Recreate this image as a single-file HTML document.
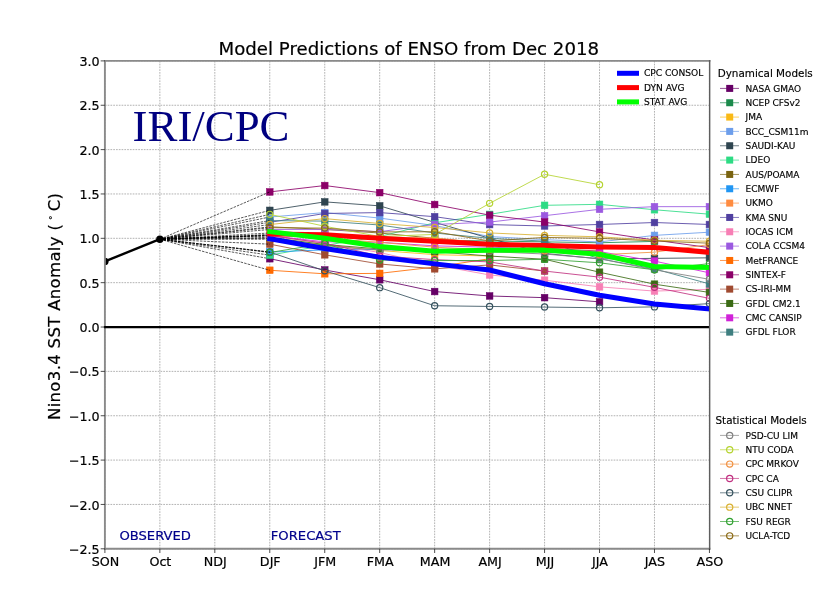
<!DOCTYPE html>
<html lang="en"><head><meta charset="utf-8"><title>Model Predictions of ENSO from Dec 2018</title>
<style>html,body{margin:0;padding:0;background:#fff}svg{display:block}</style></head>
<body>
<svg width="840" height="610" viewBox="0 0 840 610">
<defs><clipPath id="ax"><rect x="104.9" y="60.9" width="604.55" height="487.90"/></clipPath></defs>
<rect x="0" y="0" width="840" height="610" fill="#ffffff"/>
<g stroke="#a0a0a0" stroke-width="0.8" stroke-dasharray="1.7 1.08" fill="none">
<line x1="104.90" y1="60.9" x2="104.90" y2="548.8"/>
<line x1="159.86" y1="60.9" x2="159.86" y2="548.8"/>
<line x1="214.82" y1="60.9" x2="214.82" y2="548.8"/>
<line x1="269.78" y1="60.9" x2="269.78" y2="548.8"/>
<line x1="324.74" y1="60.9" x2="324.74" y2="548.8"/>
<line x1="379.70" y1="60.9" x2="379.70" y2="548.8"/>
<line x1="434.65" y1="60.9" x2="434.65" y2="548.8"/>
<line x1="489.61" y1="60.9" x2="489.61" y2="548.8"/>
<line x1="544.57" y1="60.9" x2="544.57" y2="548.8"/>
<line x1="599.53" y1="60.9" x2="599.53" y2="548.8"/>
<line x1="654.49" y1="60.9" x2="654.49" y2="548.8"/>
<line x1="709.45" y1="60.9" x2="709.45" y2="548.8"/>
<line x1="104.9" y1="548.80" x2="709.45" y2="548.80"/>
<line x1="104.9" y1="504.45" x2="709.45" y2="504.45"/>
<line x1="104.9" y1="460.09" x2="709.45" y2="460.09"/>
<line x1="104.9" y1="415.74" x2="709.45" y2="415.74"/>
<line x1="104.9" y1="371.38" x2="709.45" y2="371.38"/>
<line x1="104.9" y1="327.03" x2="709.45" y2="327.03"/>
<line x1="104.9" y1="282.67" x2="709.45" y2="282.67"/>
<line x1="104.9" y1="238.32" x2="709.45" y2="238.32"/>
<line x1="104.9" y1="193.96" x2="709.45" y2="193.96"/>
<line x1="104.9" y1="149.61" x2="709.45" y2="149.61"/>
<line x1="104.9" y1="105.25" x2="709.45" y2="105.25"/>
<line x1="104.9" y1="60.90" x2="709.45" y2="60.90"/>
</g>
<g clip-path="url(#ax)">
<g stroke="#660066" fill="#660066"><polyline points="269.78,258.72 324.74,269.99 379.70,279.75 434.65,291.54 489.61,295.98 544.57,297.66 599.53,301.83" stroke-width="0.85" fill="none"/>
<rect x="266.43" y="255.37" width="6.7" height="6.7" stroke-width="0.5"/>
<rect x="321.39" y="266.64" width="6.7" height="6.7" stroke-width="0.5"/>
<rect x="376.35" y="276.40" width="6.7" height="6.7" stroke-width="0.5"/>
<rect x="431.30" y="288.19" width="6.7" height="6.7" stroke-width="0.5"/>
<rect x="486.26" y="292.63" width="6.7" height="6.7" stroke-width="0.5"/>
<rect x="541.22" y="294.31" width="6.7" height="6.7" stroke-width="0.5"/>
<rect x="596.18" y="298.48" width="6.7" height="6.7" stroke-width="0.5"/>
</g>
<line x1="159.86" y1="239.21" x2="269.78" y2="258.72" stroke="#000" stroke-width="0.65" stroke-dasharray="2.5 1.15" fill="none"/>
<g stroke="#1b8a4b" fill="#1b8a4b"><polyline points="269.78,234.77 324.74,236.54 379.70,238.32 434.65,240.09 489.61,240.98 544.57,241.87 599.53,242.75 654.49,241.42" stroke-width="0.85" fill="none"/>
<rect x="266.43" y="231.42" width="6.7" height="6.7" stroke-width="0.5"/>
<rect x="321.39" y="233.19" width="6.7" height="6.7" stroke-width="0.5"/>
<rect x="376.35" y="234.97" width="6.7" height="6.7" stroke-width="0.5"/>
<rect x="431.30" y="236.74" width="6.7" height="6.7" stroke-width="0.5"/>
<rect x="486.26" y="237.63" width="6.7" height="6.7" stroke-width="0.5"/>
<rect x="541.22" y="238.52" width="6.7" height="6.7" stroke-width="0.5"/>
<rect x="596.18" y="239.40" width="6.7" height="6.7" stroke-width="0.5"/>
<rect x="651.14" y="238.07" width="6.7" height="6.7" stroke-width="0.5"/>
</g>
<line x1="159.86" y1="239.21" x2="269.78" y2="234.77" stroke="#000" stroke-width="0.65" stroke-dasharray="2.5 1.15" fill="none"/>
<g stroke="#f9b916" fill="#f9b916"><polyline points="269.78,239.21 324.74,244.97 379.70,250.47 434.65,254.64 489.61,256.06" stroke-width="0.85" fill="none"/>
<rect x="266.43" y="235.86" width="6.7" height="6.7" stroke-width="0.5"/>
<rect x="321.39" y="241.62" width="6.7" height="6.7" stroke-width="0.5"/>
<rect x="376.35" y="247.12" width="6.7" height="6.7" stroke-width="0.5"/>
<rect x="431.30" y="251.29" width="6.7" height="6.7" stroke-width="0.5"/>
<rect x="486.26" y="252.71" width="6.7" height="6.7" stroke-width="0.5"/>
</g>
<line x1="159.86" y1="239.21" x2="269.78" y2="239.21" stroke="#000" stroke-width="0.65" stroke-dasharray="2.5 1.15" fill="none"/>
<g stroke="#6d9eeb" fill="#6d9eeb"><polyline points="269.78,217.03 324.74,212.59 379.70,218.09 434.65,225.54 489.61,236.54 544.57,239.65 599.53,241.96 654.49,235.39 709.45,232.20" stroke-width="0.85" fill="none"/>
<rect x="266.43" y="213.68" width="6.7" height="6.7" stroke-width="0.5"/>
<rect x="321.39" y="209.24" width="6.7" height="6.7" stroke-width="0.5"/>
<rect x="376.35" y="214.74" width="6.7" height="6.7" stroke-width="0.5"/>
<rect x="431.30" y="222.19" width="6.7" height="6.7" stroke-width="0.5"/>
<rect x="486.26" y="233.19" width="6.7" height="6.7" stroke-width="0.5"/>
<rect x="541.22" y="236.30" width="6.7" height="6.7" stroke-width="0.5"/>
<rect x="596.18" y="238.61" width="6.7" height="6.7" stroke-width="0.5"/>
<rect x="651.14" y="232.04" width="6.7" height="6.7" stroke-width="0.5"/>
<rect x="706.10" y="228.85" width="6.7" height="6.7" stroke-width="0.5"/>
</g>
<line x1="159.86" y1="239.21" x2="269.78" y2="217.03" stroke="#000" stroke-width="0.65" stroke-dasharray="2.5 1.15" fill="none"/>
<g stroke="#2f4550" fill="#2f4550"><polyline points="269.78,210.37 324.74,201.86 379.70,205.85 434.65,222.35 489.61,238.32 544.57,253.40 599.53,258.90 654.49,258.37 709.45,257.83" stroke-width="0.85" fill="none"/>
<rect x="266.43" y="207.02" width="6.7" height="6.7" stroke-width="0.5"/>
<rect x="321.39" y="198.51" width="6.7" height="6.7" stroke-width="0.5"/>
<rect x="376.35" y="202.50" width="6.7" height="6.7" stroke-width="0.5"/>
<rect x="431.30" y="219.00" width="6.7" height="6.7" stroke-width="0.5"/>
<rect x="486.26" y="234.97" width="6.7" height="6.7" stroke-width="0.5"/>
<rect x="541.22" y="250.05" width="6.7" height="6.7" stroke-width="0.5"/>
<rect x="596.18" y="255.55" width="6.7" height="6.7" stroke-width="0.5"/>
<rect x="651.14" y="255.02" width="6.7" height="6.7" stroke-width="0.5"/>
<rect x="706.10" y="254.48" width="6.7" height="6.7" stroke-width="0.5"/>
</g>
<line x1="159.86" y1="239.21" x2="269.78" y2="210.37" stroke="#000" stroke-width="0.65" stroke-dasharray="2.5 1.15" fill="none"/>
<g stroke="#2ddb84" fill="#2ddb84"><polyline points="269.78,255.17 324.74,245.41 379.70,236.54 434.65,222.79 489.61,214.37 544.57,205.32 599.53,204.34 654.49,209.75 709.45,214.19" stroke-width="0.85" fill="none"/>
<rect x="266.43" y="251.82" width="6.7" height="6.7" stroke-width="0.5"/>
<rect x="321.39" y="242.06" width="6.7" height="6.7" stroke-width="0.5"/>
<rect x="376.35" y="233.19" width="6.7" height="6.7" stroke-width="0.5"/>
<rect x="431.30" y="219.44" width="6.7" height="6.7" stroke-width="0.5"/>
<rect x="486.26" y="211.02" width="6.7" height="6.7" stroke-width="0.5"/>
<rect x="541.22" y="201.97" width="6.7" height="6.7" stroke-width="0.5"/>
<rect x="596.18" y="200.99" width="6.7" height="6.7" stroke-width="0.5"/>
<rect x="651.14" y="206.40" width="6.7" height="6.7" stroke-width="0.5"/>
<rect x="706.10" y="210.84" width="6.7" height="6.7" stroke-width="0.5"/>
</g>
<line x1="159.86" y1="239.21" x2="269.78" y2="255.17" stroke="#000" stroke-width="0.65" stroke-dasharray="2.5 1.15" fill="none"/>
<g stroke="#7a6410" fill="#7a6410"><polyline points="269.78,226.79 324.74,229.45 379.70,233.00 434.65,238.32 489.61,243.64 544.57,248.08 599.53,251.09" stroke-width="0.85" fill="none"/>
<rect x="266.43" y="223.44" width="6.7" height="6.7" stroke-width="0.5"/>
<rect x="321.39" y="226.10" width="6.7" height="6.7" stroke-width="0.5"/>
<rect x="376.35" y="229.65" width="6.7" height="6.7" stroke-width="0.5"/>
<rect x="431.30" y="234.97" width="6.7" height="6.7" stroke-width="0.5"/>
<rect x="486.26" y="240.29" width="6.7" height="6.7" stroke-width="0.5"/>
<rect x="541.22" y="244.73" width="6.7" height="6.7" stroke-width="0.5"/>
<rect x="596.18" y="247.74" width="6.7" height="6.7" stroke-width="0.5"/>
</g>
<line x1="159.86" y1="239.21" x2="269.78" y2="226.79" stroke="#000" stroke-width="0.65" stroke-dasharray="2.5 1.15" fill="none"/>
<g stroke="#2196f3" fill="#2196f3"><polyline points="269.78,252.07 324.74,249.85 379.70,249.50 434.65,249.85 489.61,250.74" stroke-width="0.85" fill="none"/>
<rect x="266.43" y="248.72" width="6.7" height="6.7" stroke-width="0.5"/>
<rect x="321.39" y="246.50" width="6.7" height="6.7" stroke-width="0.5"/>
<rect x="376.35" y="246.15" width="6.7" height="6.7" stroke-width="0.5"/>
<rect x="431.30" y="246.50" width="6.7" height="6.7" stroke-width="0.5"/>
<rect x="486.26" y="247.39" width="6.7" height="6.7" stroke-width="0.5"/>
</g>
<line x1="159.86" y1="239.21" x2="269.78" y2="252.07" stroke="#000" stroke-width="0.65" stroke-dasharray="2.5 1.15" fill="none"/>
<g stroke="#ff8c40" fill="#ff8c40"><polyline points="269.78,234.77 324.74,235.66 379.70,237.43 434.65,237.87 489.61,243.64" stroke-width="0.85" fill="none"/>
<rect x="266.43" y="231.42" width="6.7" height="6.7" stroke-width="0.5"/>
<rect x="321.39" y="232.31" width="6.7" height="6.7" stroke-width="0.5"/>
<rect x="376.35" y="234.08" width="6.7" height="6.7" stroke-width="0.5"/>
<rect x="431.30" y="234.52" width="6.7" height="6.7" stroke-width="0.5"/>
<rect x="486.26" y="240.29" width="6.7" height="6.7" stroke-width="0.5"/>
</g>
<line x1="159.86" y1="239.21" x2="269.78" y2="234.77" stroke="#000" stroke-width="0.65" stroke-dasharray="2.5 1.15" fill="none"/>
<g stroke="#5040a0" fill="#5040a0"><polyline points="269.78,222.35 324.74,213.48 379.70,212.59 434.65,216.67 489.61,224.57 544.57,225.99 599.53,224.48 654.49,222.53 709.45,224.48" stroke-width="0.85" fill="none"/>
<rect x="266.43" y="219.00" width="6.7" height="6.7" stroke-width="0.5"/>
<rect x="321.39" y="210.13" width="6.7" height="6.7" stroke-width="0.5"/>
<rect x="376.35" y="209.24" width="6.7" height="6.7" stroke-width="0.5"/>
<rect x="431.30" y="213.32" width="6.7" height="6.7" stroke-width="0.5"/>
<rect x="486.26" y="221.22" width="6.7" height="6.7" stroke-width="0.5"/>
<rect x="541.22" y="222.64" width="6.7" height="6.7" stroke-width="0.5"/>
<rect x="596.18" y="221.13" width="6.7" height="6.7" stroke-width="0.5"/>
<rect x="651.14" y="219.18" width="6.7" height="6.7" stroke-width="0.5"/>
<rect x="706.10" y="221.13" width="6.7" height="6.7" stroke-width="0.5"/>
</g>
<line x1="159.86" y1="239.21" x2="269.78" y2="222.35" stroke="#000" stroke-width="0.65" stroke-dasharray="2.5 1.15" fill="none"/>
<g stroke="#f77fb5" fill="#f77fb5"><polyline points="269.78,235.66 324.74,243.64 379.70,252.51 434.65,264.93 489.61,274.96 544.57,280.19 599.53,286.84 654.49,291.10 709.45,289.33" stroke-width="0.85" fill="none"/>
<rect x="266.43" y="232.31" width="6.7" height="6.7" stroke-width="0.5"/>
<rect x="321.39" y="240.29" width="6.7" height="6.7" stroke-width="0.5"/>
<rect x="376.35" y="249.16" width="6.7" height="6.7" stroke-width="0.5"/>
<rect x="431.30" y="261.58" width="6.7" height="6.7" stroke-width="0.5"/>
<rect x="486.26" y="271.61" width="6.7" height="6.7" stroke-width="0.5"/>
<rect x="541.22" y="276.84" width="6.7" height="6.7" stroke-width="0.5"/>
<rect x="596.18" y="283.49" width="6.7" height="6.7" stroke-width="0.5"/>
<rect x="651.14" y="287.75" width="6.7" height="6.7" stroke-width="0.5"/>
<rect x="706.10" y="285.98" width="6.7" height="6.7" stroke-width="0.5"/>
</g>
<line x1="159.86" y1="239.21" x2="269.78" y2="235.66" stroke="#000" stroke-width="0.65" stroke-dasharray="2.5 1.15" fill="none"/>
<g stroke="#9b59e0" fill="#9b59e0"><polyline points="269.78,229.45 324.74,229.45 379.70,231.66 434.65,224.48 489.61,222.08 544.57,215.70 599.53,209.31 654.49,206.65 709.45,206.65" stroke-width="0.85" fill="none"/>
<rect x="266.43" y="226.10" width="6.7" height="6.7" stroke-width="0.5"/>
<rect x="321.39" y="226.10" width="6.7" height="6.7" stroke-width="0.5"/>
<rect x="376.35" y="228.31" width="6.7" height="6.7" stroke-width="0.5"/>
<rect x="431.30" y="221.13" width="6.7" height="6.7" stroke-width="0.5"/>
<rect x="486.26" y="218.73" width="6.7" height="6.7" stroke-width="0.5"/>
<rect x="541.22" y="212.35" width="6.7" height="6.7" stroke-width="0.5"/>
<rect x="596.18" y="205.96" width="6.7" height="6.7" stroke-width="0.5"/>
<rect x="651.14" y="203.30" width="6.7" height="6.7" stroke-width="0.5"/>
<rect x="706.10" y="203.30" width="6.7" height="6.7" stroke-width="0.5"/>
</g>
<line x1="159.86" y1="239.21" x2="269.78" y2="229.45" stroke="#000" stroke-width="0.65" stroke-dasharray="2.5 1.15" fill="none"/>
<g stroke="#ff6a00" fill="#ff6a00"><polyline points="269.78,270.25 324.74,273.80 379.70,273.36 434.65,267.06 489.61,258.72" stroke-width="0.85" fill="none"/>
<rect x="266.43" y="266.90" width="6.7" height="6.7" stroke-width="0.5"/>
<rect x="321.39" y="270.45" width="6.7" height="6.7" stroke-width="0.5"/>
<rect x="376.35" y="270.01" width="6.7" height="6.7" stroke-width="0.5"/>
<rect x="431.30" y="263.71" width="6.7" height="6.7" stroke-width="0.5"/>
<rect x="486.26" y="255.37" width="6.7" height="6.7" stroke-width="0.5"/>
</g>
<line x1="159.86" y1="239.21" x2="269.78" y2="270.25" stroke="#000" stroke-width="0.65" stroke-dasharray="2.5 1.15" fill="none"/>
<g stroke="#8b0068" fill="#8b0068"><polyline points="269.78,191.92 324.74,185.54 379.70,192.63 434.65,204.52 489.61,215.17 544.57,222.08 599.53,231.93 654.49,240.09 709.45,247.63" stroke-width="0.85" fill="none"/>
<rect x="266.43" y="188.57" width="6.7" height="6.7" stroke-width="0.5"/>
<rect x="321.39" y="182.19" width="6.7" height="6.7" stroke-width="0.5"/>
<rect x="376.35" y="189.28" width="6.7" height="6.7" stroke-width="0.5"/>
<rect x="431.30" y="201.17" width="6.7" height="6.7" stroke-width="0.5"/>
<rect x="486.26" y="211.82" width="6.7" height="6.7" stroke-width="0.5"/>
<rect x="541.22" y="218.73" width="6.7" height="6.7" stroke-width="0.5"/>
<rect x="596.18" y="228.58" width="6.7" height="6.7" stroke-width="0.5"/>
<rect x="651.14" y="236.74" width="6.7" height="6.7" stroke-width="0.5"/>
<rect x="706.10" y="244.28" width="6.7" height="6.7" stroke-width="0.5"/>
</g>
<line x1="159.86" y1="239.21" x2="269.78" y2="191.92" stroke="#000" stroke-width="0.65" stroke-dasharray="2.5 1.15" fill="none"/>
<g stroke="#a04a30" fill="#a04a30"><polyline points="269.78,244.17 324.74,254.82 379.70,263.96 434.65,268.83 489.61,264.93 544.57,271.05" stroke-width="0.85" fill="none"/>
<rect x="266.43" y="240.82" width="6.7" height="6.7" stroke-width="0.5"/>
<rect x="321.39" y="251.47" width="6.7" height="6.7" stroke-width="0.5"/>
<rect x="376.35" y="260.61" width="6.7" height="6.7" stroke-width="0.5"/>
<rect x="431.30" y="265.48" width="6.7" height="6.7" stroke-width="0.5"/>
<rect x="486.26" y="261.58" width="6.7" height="6.7" stroke-width="0.5"/>
<rect x="541.22" y="267.70" width="6.7" height="6.7" stroke-width="0.5"/>
</g>
<line x1="159.86" y1="239.21" x2="269.78" y2="244.17" stroke="#000" stroke-width="0.65" stroke-dasharray="2.5 1.15" fill="none"/>
<g stroke="#3b6b14" fill="#3b6b14"><polyline points="269.78,237.43 324.74,244.53 379.70,248.96 434.65,251.62 489.61,256.06 544.57,259.25 599.53,272.21 654.49,284.18 709.45,292.43" stroke-width="0.85" fill="none"/>
<rect x="266.43" y="234.08" width="6.7" height="6.7" stroke-width="0.5"/>
<rect x="321.39" y="241.18" width="6.7" height="6.7" stroke-width="0.5"/>
<rect x="376.35" y="245.61" width="6.7" height="6.7" stroke-width="0.5"/>
<rect x="431.30" y="248.27" width="6.7" height="6.7" stroke-width="0.5"/>
<rect x="486.26" y="252.71" width="6.7" height="6.7" stroke-width="0.5"/>
<rect x="541.22" y="255.90" width="6.7" height="6.7" stroke-width="0.5"/>
<rect x="596.18" y="268.86" width="6.7" height="6.7" stroke-width="0.5"/>
<rect x="651.14" y="280.83" width="6.7" height="6.7" stroke-width="0.5"/>
<rect x="706.10" y="289.08" width="6.7" height="6.7" stroke-width="0.5"/>
</g>
<line x1="159.86" y1="239.21" x2="269.78" y2="237.43" stroke="#000" stroke-width="0.65" stroke-dasharray="2.5 1.15" fill="none"/>
<g stroke="#d022d8" fill="#d022d8"><polyline points="269.78,235.66 324.74,241.87 379.70,242.31 434.65,245.86 489.61,247.19 544.57,248.96 599.53,251.62 654.49,261.12 709.45,272.83" stroke-width="0.85" fill="none"/>
<rect x="266.43" y="232.31" width="6.7" height="6.7" stroke-width="0.5"/>
<rect x="321.39" y="238.52" width="6.7" height="6.7" stroke-width="0.5"/>
<rect x="376.35" y="238.96" width="6.7" height="6.7" stroke-width="0.5"/>
<rect x="431.30" y="242.51" width="6.7" height="6.7" stroke-width="0.5"/>
<rect x="486.26" y="243.84" width="6.7" height="6.7" stroke-width="0.5"/>
<rect x="541.22" y="245.61" width="6.7" height="6.7" stroke-width="0.5"/>
<rect x="596.18" y="248.27" width="6.7" height="6.7" stroke-width="0.5"/>
<rect x="651.14" y="257.77" width="6.7" height="6.7" stroke-width="0.5"/>
<rect x="706.10" y="269.48" width="6.7" height="6.7" stroke-width="0.5"/>
</g>
<line x1="159.86" y1="239.21" x2="269.78" y2="235.66" stroke="#000" stroke-width="0.65" stroke-dasharray="2.5 1.15" fill="none"/>
<g stroke="#3f7f80" fill="#3f7f80"><polyline points="269.78,220.58 324.74,221.11 379.70,225.01 434.65,233.00 489.61,238.32 544.57,241.16 599.53,258.72 654.49,268.92 709.45,283.91" stroke-width="0.85" fill="none"/>
<rect x="266.43" y="217.23" width="6.7" height="6.7" stroke-width="0.5"/>
<rect x="321.39" y="217.76" width="6.7" height="6.7" stroke-width="0.5"/>
<rect x="376.35" y="221.66" width="6.7" height="6.7" stroke-width="0.5"/>
<rect x="431.30" y="229.65" width="6.7" height="6.7" stroke-width="0.5"/>
<rect x="486.26" y="234.97" width="6.7" height="6.7" stroke-width="0.5"/>
<rect x="541.22" y="237.81" width="6.7" height="6.7" stroke-width="0.5"/>
<rect x="596.18" y="255.37" width="6.7" height="6.7" stroke-width="0.5"/>
<rect x="651.14" y="265.57" width="6.7" height="6.7" stroke-width="0.5"/>
<rect x="706.10" y="280.56" width="6.7" height="6.7" stroke-width="0.5"/>
</g>
<line x1="159.86" y1="239.21" x2="269.78" y2="220.58" stroke="#000" stroke-width="0.65" stroke-dasharray="2.5 1.15" fill="none"/>
<g stroke="#808080" fill="none"><polyline points="269.78,238.32 324.74,246.30 379.70,249.85 434.65,250.74 489.61,251.62 544.57,254.02 599.53,258.72 654.49,269.81 709.45,279.30" stroke-width="0.85"/>
<circle cx="269.78" cy="238.32" r="3.1" stroke-width="1.2"/>
<circle cx="324.74" cy="246.30" r="3.1" stroke-width="1.2"/>
<circle cx="379.70" cy="249.85" r="3.1" stroke-width="1.2"/>
<circle cx="434.65" cy="250.74" r="3.1" stroke-width="1.2"/>
<circle cx="489.61" cy="251.62" r="3.1" stroke-width="1.2"/>
<circle cx="544.57" cy="254.02" r="3.1" stroke-width="1.2"/>
<circle cx="599.53" cy="258.72" r="3.1" stroke-width="1.2"/>
<circle cx="654.49" cy="269.81" r="3.1" stroke-width="1.2"/>
<circle cx="709.45" cy="279.30" r="3.1" stroke-width="1.2"/>
</g>
<line x1="159.86" y1="239.21" x2="269.78" y2="238.32" stroke="#000" stroke-width="0.65" stroke-dasharray="2.5 1.15" fill="none"/>
<g stroke="#b5d330" fill="none"><polyline points="269.78,214.37 324.74,226.25 379.70,236.54 434.65,234.41 489.61,203.37 544.57,174.27 599.53,184.74" stroke-width="0.85"/>
<circle cx="269.78" cy="214.37" r="3.1" stroke-width="1.2"/>
<circle cx="324.74" cy="226.25" r="3.1" stroke-width="1.2"/>
<circle cx="379.70" cy="236.54" r="3.1" stroke-width="1.2"/>
<circle cx="434.65" cy="234.41" r="3.1" stroke-width="1.2"/>
<circle cx="489.61" cy="203.37" r="3.1" stroke-width="1.2"/>
<circle cx="544.57" cy="174.27" r="3.1" stroke-width="1.2"/>
<circle cx="599.53" cy="184.74" r="3.1" stroke-width="1.2"/>
</g>
<line x1="159.86" y1="239.21" x2="269.78" y2="214.37" stroke="#000" stroke-width="0.65" stroke-dasharray="2.5 1.15" fill="none"/>
<g stroke="#f09040" fill="none"><polyline points="269.78,233.00 324.74,238.32 379.70,242.31 434.65,247.19 489.61,249.85 544.57,250.74 599.53,254.73 654.49,252.16 709.45,244.53" stroke-width="0.85"/>
<circle cx="269.78" cy="233.00" r="3.1" stroke-width="1.2"/>
<circle cx="324.74" cy="238.32" r="3.1" stroke-width="1.2"/>
<circle cx="379.70" cy="242.31" r="3.1" stroke-width="1.2"/>
<circle cx="434.65" cy="247.19" r="3.1" stroke-width="1.2"/>
<circle cx="489.61" cy="249.85" r="3.1" stroke-width="1.2"/>
<circle cx="544.57" cy="250.74" r="3.1" stroke-width="1.2"/>
<circle cx="599.53" cy="254.73" r="3.1" stroke-width="1.2"/>
<circle cx="654.49" cy="252.16" r="3.1" stroke-width="1.2"/>
<circle cx="709.45" cy="244.53" r="3.1" stroke-width="1.2"/>
</g>
<line x1="159.86" y1="239.21" x2="269.78" y2="233.00" stroke="#000" stroke-width="0.65" stroke-dasharray="2.5 1.15" fill="none"/>
<g stroke="#c03080" fill="none"><polyline points="269.78,235.66 324.74,243.20 379.70,256.06 434.65,259.61 489.61,261.91 544.57,271.05 599.53,277.17 654.49,287.37 709.45,298.37" stroke-width="0.85"/>
<circle cx="269.78" cy="235.66" r="3.1" stroke-width="1.2"/>
<circle cx="324.74" cy="243.20" r="3.1" stroke-width="1.2"/>
<circle cx="379.70" cy="256.06" r="3.1" stroke-width="1.2"/>
<circle cx="434.65" cy="259.61" r="3.1" stroke-width="1.2"/>
<circle cx="489.61" cy="261.91" r="3.1" stroke-width="1.2"/>
<circle cx="544.57" cy="271.05" r="3.1" stroke-width="1.2"/>
<circle cx="599.53" cy="277.17" r="3.1" stroke-width="1.2"/>
<circle cx="654.49" cy="287.37" r="3.1" stroke-width="1.2"/>
<circle cx="709.45" cy="298.37" r="3.1" stroke-width="1.2"/>
</g>
<line x1="159.86" y1="239.21" x2="269.78" y2="235.66" stroke="#000" stroke-width="0.65" stroke-dasharray="2.5 1.15" fill="none"/>
<g stroke="#36525e" fill="none"><polyline points="269.78,252.07 324.74,270.87 379.70,287.64 434.65,305.74 489.61,306.45 544.57,307.07 599.53,307.78 654.49,306.89 709.45,303.61" stroke-width="0.85"/>
<circle cx="269.78" cy="252.07" r="3.1" stroke-width="1.2"/>
<circle cx="324.74" cy="270.87" r="3.1" stroke-width="1.2"/>
<circle cx="379.70" cy="287.64" r="3.1" stroke-width="1.2"/>
<circle cx="434.65" cy="305.74" r="3.1" stroke-width="1.2"/>
<circle cx="489.61" cy="306.45" r="3.1" stroke-width="1.2"/>
<circle cx="544.57" cy="307.07" r="3.1" stroke-width="1.2"/>
<circle cx="599.53" cy="307.78" r="3.1" stroke-width="1.2"/>
<circle cx="654.49" cy="306.89" r="3.1" stroke-width="1.2"/>
<circle cx="709.45" cy="303.61" r="3.1" stroke-width="1.2"/>
</g>
<line x1="159.86" y1="239.21" x2="269.78" y2="252.07" stroke="#000" stroke-width="0.65" stroke-dasharray="2.5 1.15" fill="none"/>
<g stroke="#d9b132" fill="none"><polyline points="269.78,224.57 324.74,218.62 379.70,223.50 434.65,227.50 489.61,232.91 544.57,235.39 599.53,236.81 654.49,240.27 709.45,241.25" stroke-width="0.85"/>
<circle cx="269.78" cy="224.57" r="3.1" stroke-width="1.2"/>
<circle cx="324.74" cy="218.62" r="3.1" stroke-width="1.2"/>
<circle cx="379.70" cy="223.50" r="3.1" stroke-width="1.2"/>
<circle cx="434.65" cy="227.50" r="3.1" stroke-width="1.2"/>
<circle cx="489.61" cy="232.91" r="3.1" stroke-width="1.2"/>
<circle cx="544.57" cy="235.39" r="3.1" stroke-width="1.2"/>
<circle cx="599.53" cy="236.81" r="3.1" stroke-width="1.2"/>
<circle cx="654.49" cy="240.27" r="3.1" stroke-width="1.2"/>
<circle cx="709.45" cy="241.25" r="3.1" stroke-width="1.2"/>
</g>
<line x1="159.86" y1="239.21" x2="269.78" y2="224.57" stroke="#000" stroke-width="0.65" stroke-dasharray="2.5 1.15" fill="none"/>
<g stroke="#30a030" fill="none"><polyline points="269.78,252.51 324.74,243.64 379.70,260.05 434.65,260.58 489.61,260.50 544.57,259.25 599.53,262.80 654.49,269.81 709.45,263.60" stroke-width="0.85"/>
<circle cx="269.78" cy="252.51" r="3.1" stroke-width="1.2"/>
<circle cx="324.74" cy="243.64" r="3.1" stroke-width="1.2"/>
<circle cx="379.70" cy="260.05" r="3.1" stroke-width="1.2"/>
<circle cx="434.65" cy="260.58" r="3.1" stroke-width="1.2"/>
<circle cx="489.61" cy="260.50" r="3.1" stroke-width="1.2"/>
<circle cx="544.57" cy="259.25" r="3.1" stroke-width="1.2"/>
<circle cx="599.53" cy="262.80" r="3.1" stroke-width="1.2"/>
<circle cx="654.49" cy="269.81" r="3.1" stroke-width="1.2"/>
<circle cx="709.45" cy="263.60" r="3.1" stroke-width="1.2"/>
</g>
<line x1="159.86" y1="239.21" x2="269.78" y2="252.51" stroke="#000" stroke-width="0.65" stroke-dasharray="2.5 1.15" fill="none"/>
<g stroke="#8a6914" fill="none"><polyline points="269.78,227.67 324.74,228.12 379.70,231.93 434.65,231.75 489.61,240.98 544.57,237.43 599.53,238.32 654.49,240.98 709.45,243.20" stroke-width="0.85"/>
<circle cx="269.78" cy="227.67" r="3.1" stroke-width="1.2"/>
<circle cx="324.74" cy="228.12" r="3.1" stroke-width="1.2"/>
<circle cx="379.70" cy="231.93" r="3.1" stroke-width="1.2"/>
<circle cx="434.65" cy="231.75" r="3.1" stroke-width="1.2"/>
<circle cx="489.61" cy="240.98" r="3.1" stroke-width="1.2"/>
<circle cx="544.57" cy="237.43" r="3.1" stroke-width="1.2"/>
<circle cx="599.53" cy="238.32" r="3.1" stroke-width="1.2"/>
<circle cx="654.49" cy="240.98" r="3.1" stroke-width="1.2"/>
<circle cx="709.45" cy="243.20" r="3.1" stroke-width="1.2"/>
</g>
<line x1="159.86" y1="239.21" x2="269.78" y2="227.67" stroke="#000" stroke-width="0.65" stroke-dasharray="2.5 1.15" fill="none"/>
<polyline points="104.90,261.38 159.86,239.21" stroke="#000" stroke-width="2.4" fill="none"/>
<circle cx="104.90" cy="261.38" r="3.7" fill="#000"/>
<circle cx="159.86" cy="239.21" r="3.7" fill="#000"/>
<polyline points="269.78,238.76 324.74,248.52 379.70,257.12 434.65,263.87 489.61,269.99 544.57,283.74 599.53,295.27 654.49,303.96 709.45,308.84" stroke="#0000ff" stroke-width="5.0" fill="none" stroke-linejoin="round" stroke-linecap="square"/>
<polyline points="269.78,233.88 324.74,234.86 379.70,238.32 434.65,241.33 489.61,244.17 544.57,245.59 599.53,247.01 654.49,247.46 709.45,252.33" stroke="#ff0000" stroke-width="5.0" fill="none" stroke-linejoin="round" stroke-linecap="square"/>
<polyline points="269.78,231.66 324.74,238.32 379.70,246.48 434.65,251.18 489.61,250.29 544.57,250.12 599.53,254.29 654.49,266.44 709.45,267.59" stroke="#00ff00" stroke-width="5.0" fill="none" stroke-linejoin="round" stroke-linecap="square"/>
</g>
<path d="M709.45,60.9 H104.9 V548.8 H709.45" fill="none" stroke="#8a8a8a" stroke-width="1.9" stroke-linecap="square"/>
<line x1="103.9" y1="327.03" x2="709.45" y2="327.03" stroke="#000" stroke-width="2.3"/>
<line x1="709.65" y1="60.0" x2="709.65" y2="549.6999999999999" stroke="#5e5e5e" stroke-width="1.45"/>
<g stroke="#222" stroke-width="0.8">
<line x1="104.90" y1="548.8" x2="104.90" y2="553.0"/>
<line x1="159.86" y1="548.8" x2="159.86" y2="553.0"/>
<line x1="214.82" y1="548.8" x2="214.82" y2="553.0"/>
<line x1="269.78" y1="548.8" x2="269.78" y2="553.0"/>
<line x1="324.74" y1="548.8" x2="324.74" y2="553.0"/>
<line x1="379.70" y1="548.8" x2="379.70" y2="553.0"/>
<line x1="434.65" y1="548.8" x2="434.65" y2="553.0"/>
<line x1="489.61" y1="548.8" x2="489.61" y2="553.0"/>
<line x1="544.57" y1="548.8" x2="544.57" y2="553.0"/>
<line x1="599.53" y1="548.8" x2="599.53" y2="553.0"/>
<line x1="654.49" y1="548.8" x2="654.49" y2="553.0"/>
<line x1="709.45" y1="548.8" x2="709.45" y2="553.0"/>
<line x1="100.7" y1="548.80" x2="104.9" y2="548.80"/>
<line x1="100.7" y1="504.45" x2="104.9" y2="504.45"/>
<line x1="100.7" y1="460.09" x2="104.9" y2="460.09"/>
<line x1="100.7" y1="415.74" x2="104.9" y2="415.74"/>
<line x1="100.7" y1="371.38" x2="104.9" y2="371.38"/>
<line x1="100.7" y1="327.03" x2="104.9" y2="327.03"/>
<line x1="100.7" y1="282.67" x2="104.9" y2="282.67"/>
<line x1="100.7" y1="238.32" x2="104.9" y2="238.32"/>
<line x1="100.7" y1="193.96" x2="104.9" y2="193.96"/>
<line x1="100.7" y1="149.61" x2="104.9" y2="149.61"/>
<line x1="100.7" y1="105.25" x2="104.9" y2="105.25"/>
<line x1="100.7" y1="60.90" x2="104.9" y2="60.90"/>
</g>
<g font-family="DejaVu Sans, Liberation Sans, sans-serif" fill="#000" stroke="#000" stroke-width="0.2">
<text x="408.8" y="54.7" font-size="18.15" text-anchor="middle">Model Predictions of ENSO from Dec 2018</text>
<text x="105.40" y="566.4" font-size="12.7" text-anchor="middle">SON</text>
<text x="160.36" y="566.4" font-size="12.7" text-anchor="middle">Oct</text>
<text x="215.32" y="566.4" font-size="12.7" text-anchor="middle">NDJ</text>
<text x="270.28" y="566.4" font-size="12.7" text-anchor="middle">DJF</text>
<text x="325.24" y="566.4" font-size="12.7" text-anchor="middle">JFM</text>
<text x="380.20" y="566.4" font-size="12.7" text-anchor="middle">FMA</text>
<text x="435.15" y="566.4" font-size="12.7" text-anchor="middle">MAM</text>
<text x="490.11" y="566.4" font-size="12.7" text-anchor="middle">AMJ</text>
<text x="545.07" y="566.4" font-size="12.7" text-anchor="middle">MJJ</text>
<text x="600.03" y="566.4" font-size="12.7" text-anchor="middle">JJA</text>
<text x="654.99" y="566.4" font-size="12.7" text-anchor="middle">JAS</text>
<text x="709.95" y="566.4" font-size="12.7" text-anchor="middle">ASO</text>
<text x="99.7" y="553.90" font-size="12.7" text-anchor="end">−2.5</text>
<text x="99.7" y="509.55" font-size="12.7" text-anchor="end">−2.0</text>
<text x="99.7" y="465.19" font-size="12.7" text-anchor="end">−1.5</text>
<text x="99.7" y="420.84" font-size="12.7" text-anchor="end">−1.0</text>
<text x="99.7" y="376.48" font-size="12.7" text-anchor="end">−0.5</text>
<text x="99.7" y="332.13" font-size="12.7" text-anchor="end">0.0</text>
<text x="99.7" y="287.77" font-size="12.7" text-anchor="end">0.5</text>
<text x="99.7" y="243.42" font-size="12.7" text-anchor="end">1.0</text>
<text x="99.7" y="199.06" font-size="12.7" text-anchor="end">1.5</text>
<text x="99.7" y="154.71" font-size="12.7" text-anchor="end">2.0</text>
<text x="99.7" y="110.35" font-size="12.7" text-anchor="end">2.5</text>
<text x="99.7" y="66.00" font-size="12.7" text-anchor="end">3.0</text>
<text transform="translate(59.8,420) rotate(-90)" font-size="16.5" letter-spacing="0.33">Nino3.4 SST Anomaly (<tspan dx="3.8" font-size="9.2" dy="-4.3">°</tspan><tspan dx="3.7" dy="4.3">C)</tspan></text>
</g>
<text x="132.6" y="141.2" font-family="Liberation Serif, DejaVu Serif, serif" font-size="44.8" fill="#000080">IRI/CPC</text>
<g font-family="DejaVu Sans, Liberation Sans, sans-serif" fill="#00008b" font-size="13.15" stroke="#00008b" stroke-width="0.2"><text x="119.4" y="539.6">OBSERVED</text><text x="270.8" y="539.6">FORECAST</text></g>
<g font-family="DejaVu Sans, Liberation Sans, sans-serif" font-size="9.1" fill="#000" stroke="#000" stroke-width="0.15">
<line x1="617" y1="73.30" x2="639" y2="73.30" stroke="#0000ff" stroke-width="5"/>
<text x="643.9" y="76.30">CPC CONSOL</text>
<line x1="617" y1="87.60" x2="639" y2="87.60" stroke="#ff0000" stroke-width="5"/>
<text x="643.9" y="90.60">DYN AVG</text>
<line x1="617" y1="101.90" x2="639" y2="101.90" stroke="#00ff00" stroke-width="5"/>
<text x="643.9" y="104.90">STAT AVG</text>
</g>
<g font-family="DejaVu Sans, Liberation Sans, sans-serif" fill="#000" stroke-width="0.15">
<text x="717.7" y="77" font-size="10.4" stroke="#000">Dynamical Models</text>
<line x1="720" y1="88.40" x2="739" y2="88.40" stroke="#660066" stroke-width="0.68"/>
<rect x="726.20" y="84.90" width="7" height="7" fill="#660066"/>
<text x="745.5" y="91.70" font-size="9" stroke="#000">NASA GMAO</text>
<line x1="720" y1="102.74" x2="739" y2="102.74" stroke="#1b8a4b" stroke-width="0.68"/>
<rect x="726.20" y="99.24" width="7" height="7" fill="#1b8a4b"/>
<text x="745.5" y="106.04" font-size="9" stroke="#000">NCEP CFSv2</text>
<line x1="720" y1="117.08" x2="739" y2="117.08" stroke="#f9b916" stroke-width="0.68"/>
<rect x="726.20" y="113.58" width="7" height="7" fill="#f9b916"/>
<text x="745.5" y="120.38" font-size="9" stroke="#000">JMA</text>
<line x1="720" y1="131.41" x2="739" y2="131.41" stroke="#6d9eeb" stroke-width="0.68"/>
<rect x="726.20" y="127.91" width="7" height="7" fill="#6d9eeb"/>
<text x="745.5" y="134.71" font-size="9" stroke="#000">BCC_CSM11m</text>
<line x1="720" y1="145.75" x2="739" y2="145.75" stroke="#2f4550" stroke-width="0.68"/>
<rect x="726.20" y="142.25" width="7" height="7" fill="#2f4550"/>
<text x="745.5" y="149.05" font-size="9" stroke="#000">SAUDI-KAU</text>
<line x1="720" y1="160.09" x2="739" y2="160.09" stroke="#2ddb84" stroke-width="0.68"/>
<rect x="726.20" y="156.59" width="7" height="7" fill="#2ddb84"/>
<text x="745.5" y="163.39" font-size="9" stroke="#000">LDEO</text>
<line x1="720" y1="174.43" x2="739" y2="174.43" stroke="#7a6410" stroke-width="0.68"/>
<rect x="726.20" y="170.93" width="7" height="7" fill="#7a6410"/>
<text x="745.5" y="177.73" font-size="9" stroke="#000">AUS/POAMA</text>
<line x1="720" y1="188.77" x2="739" y2="188.77" stroke="#2196f3" stroke-width="0.68"/>
<rect x="726.20" y="185.27" width="7" height="7" fill="#2196f3"/>
<text x="745.5" y="192.07" font-size="9" stroke="#000">ECMWF</text>
<line x1="720" y1="203.10" x2="739" y2="203.10" stroke="#ff8c40" stroke-width="0.68"/>
<rect x="726.20" y="199.60" width="7" height="7" fill="#ff8c40"/>
<text x="745.5" y="206.40" font-size="9" stroke="#000">UKMO</text>
<line x1="720" y1="217.44" x2="739" y2="217.44" stroke="#5040a0" stroke-width="0.68"/>
<rect x="726.20" y="213.94" width="7" height="7" fill="#5040a0"/>
<text x="745.5" y="220.74" font-size="9" stroke="#000">KMA SNU</text>
<line x1="720" y1="231.78" x2="739" y2="231.78" stroke="#f77fb5" stroke-width="0.68"/>
<rect x="726.20" y="228.28" width="7" height="7" fill="#f77fb5"/>
<text x="745.5" y="235.08" font-size="9" stroke="#000">IOCAS ICM</text>
<line x1="720" y1="246.12" x2="739" y2="246.12" stroke="#9b59e0" stroke-width="0.68"/>
<rect x="726.20" y="242.62" width="7" height="7" fill="#9b59e0"/>
<text x="745.5" y="249.42" font-size="9" stroke="#000">COLA CCSM4</text>
<line x1="720" y1="260.46" x2="739" y2="260.46" stroke="#ff6a00" stroke-width="0.68"/>
<rect x="726.20" y="256.96" width="7" height="7" fill="#ff6a00"/>
<text x="745.5" y="263.76" font-size="9" stroke="#000">MetFRANCE</text>
<line x1="720" y1="274.79" x2="739" y2="274.79" stroke="#8b0068" stroke-width="0.68"/>
<rect x="726.20" y="271.29" width="7" height="7" fill="#8b0068"/>
<text x="745.5" y="278.09" font-size="9" stroke="#000">SINTEX-F</text>
<line x1="720" y1="289.13" x2="739" y2="289.13" stroke="#a04a30" stroke-width="0.68"/>
<rect x="726.20" y="285.63" width="7" height="7" fill="#a04a30"/>
<text x="745.5" y="292.43" font-size="9" stroke="#000">CS-IRI-MM</text>
<line x1="720" y1="303.47" x2="739" y2="303.47" stroke="#3b6b14" stroke-width="0.68"/>
<rect x="726.20" y="299.97" width="7" height="7" fill="#3b6b14"/>
<text x="745.5" y="306.77" font-size="9" stroke="#000">GFDL CM2.1</text>
<line x1="720" y1="317.81" x2="739" y2="317.81" stroke="#d022d8" stroke-width="0.68"/>
<rect x="726.20" y="314.31" width="7" height="7" fill="#d022d8"/>
<text x="745.5" y="321.11" font-size="9" stroke="#000">CMC CANSIP</text>
<line x1="720" y1="332.15" x2="739" y2="332.15" stroke="#3f7f80" stroke-width="0.68"/>
<rect x="726.20" y="328.65" width="7" height="7" fill="#3f7f80"/>
<text x="745.5" y="335.45" font-size="9" stroke="#000">GFDL FLOR</text>
<text x="715.5" y="423.5" font-size="10.4" stroke="#000">Statistical Models</text>
<line x1="720" y1="435.40" x2="739" y2="435.40" stroke="#808080" stroke-width="0.68"/>
<circle cx="729.7" cy="435.40" r="3.1" fill="none" stroke="#808080" stroke-width="1.2"/>
<text x="745.5" y="438.70" font-size="9" stroke="#000">PSD-CU LIM</text>
<line x1="720" y1="449.75" x2="739" y2="449.75" stroke="#b5d330" stroke-width="0.68"/>
<circle cx="729.7" cy="449.75" r="3.1" fill="none" stroke="#b5d330" stroke-width="1.2"/>
<text x="745.5" y="453.05" font-size="9" stroke="#000">NTU CODA</text>
<line x1="720" y1="464.10" x2="739" y2="464.10" stroke="#f09040" stroke-width="0.68"/>
<circle cx="729.7" cy="464.10" r="3.1" fill="none" stroke="#f09040" stroke-width="1.2"/>
<text x="745.5" y="467.40" font-size="9" stroke="#000">CPC MRKOV</text>
<line x1="720" y1="478.45" x2="739" y2="478.45" stroke="#c03080" stroke-width="0.68"/>
<circle cx="729.7" cy="478.45" r="3.1" fill="none" stroke="#c03080" stroke-width="1.2"/>
<text x="745.5" y="481.75" font-size="9" stroke="#000">CPC CA</text>
<line x1="720" y1="492.80" x2="739" y2="492.80" stroke="#36525e" stroke-width="0.68"/>
<circle cx="729.7" cy="492.80" r="3.1" fill="none" stroke="#36525e" stroke-width="1.2"/>
<text x="745.5" y="496.10" font-size="9" stroke="#000">CSU CLIPR</text>
<line x1="720" y1="507.15" x2="739" y2="507.15" stroke="#d9b132" stroke-width="0.68"/>
<circle cx="729.7" cy="507.15" r="3.1" fill="none" stroke="#d9b132" stroke-width="1.2"/>
<text x="745.5" y="510.45" font-size="9" stroke="#000">UBC NNET</text>
<line x1="720" y1="521.50" x2="739" y2="521.50" stroke="#30a030" stroke-width="0.68"/>
<circle cx="729.7" cy="521.50" r="3.1" fill="none" stroke="#30a030" stroke-width="1.2"/>
<text x="745.5" y="524.80" font-size="9" stroke="#000">FSU REGR</text>
<line x1="720" y1="535.85" x2="739" y2="535.85" stroke="#8a6914" stroke-width="0.68"/>
<circle cx="729.7" cy="535.85" r="3.1" fill="none" stroke="#8a6914" stroke-width="1.2"/>
<text x="745.5" y="539.15" font-size="9" stroke="#000">UCLA-TCD</text>
</g>
</svg>
</body></html>
